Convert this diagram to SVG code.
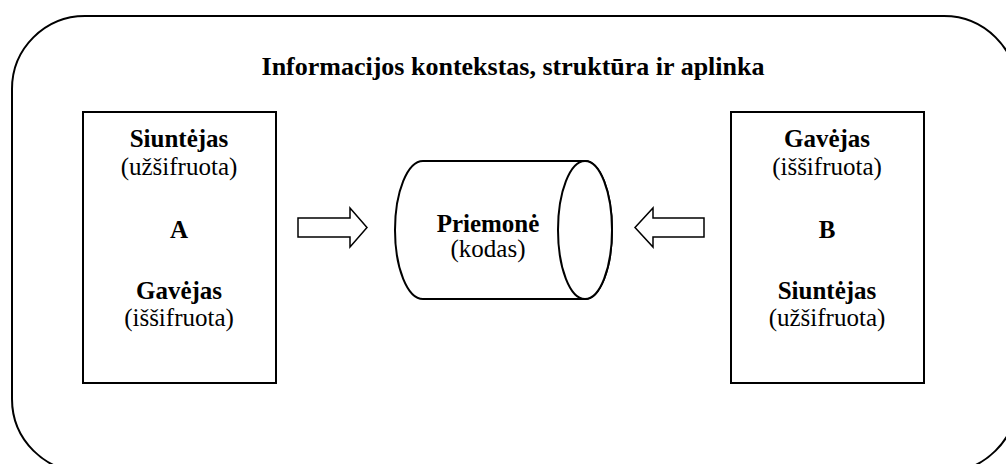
<svg xmlns="http://www.w3.org/2000/svg" width="1006" height="464" viewBox="0 0 1006 464">
  <style>
    .ln { fill: #fff; stroke: #000; stroke-width: 2; }
    .arr { fill: #fff; stroke: #000; stroke-width: 1.5; }
    .t { font-family: 'Liberation Serif', 'Times New Roman', serif; text-anchor: middle; fill: #000; font-size: 25px; }
    .b { font-weight: bold; }
    .title { font-size: 26px; }
  </style>
  <rect width="1006" height="464" fill="#fff"/>

  <!-- surrounding context frame -->
  <g id="context">
    <rect class="ln" x="12" y="16" width="1005" height="456" rx="73" ry="73"/>
    <text class="t b title" x="513" y="75">Informacijos kontekstas, struktūra ir aplinka</text>
  </g>

  <g id="party-a">
    <rect class="ln" x="83" y="112" width="193" height="271"/>
    <text class="t b" x="179" y="147">Siuntėjas</text>
    <text class="t" x="179" y="175">(užšifruota)</text>
    <text class="t b" x="179" y="238">A</text>
    <text class="t b" x="179" y="299">Gavėjas</text>
    <text class="t" x="179" y="326">(iššifruota)</text>
  </g>

  <g id="party-b">
    <rect class="ln" x="731" y="112" width="193" height="271"/>
    <text class="t b" x="827" y="147">Gavėjas</text>
    <text class="t" x="827" y="175">(iššifruota)</text>
    <text class="t b" x="827" y="238">B</text>
    <text class="t b" x="827" y="299">Siuntėjas</text>
    <text class="t" x="827" y="326">(užšifruota)</text>
  </g>

  <!-- channel drawn as a horizontal cylinder -->
  <g id="medium">
    <path class="ln" d="M423 161 L585 161 A27 69 0 0 1 585 299 L423 299 A28 69 0 0 1 423 161 Z"/>
    <ellipse class="ln" cx="585" cy="230" rx="27" ry="69"/>
    <text class="t b" x="488" y="232">Priemonė</text>
    <text class="t" x="488" y="257">(kodas)</text>
  </g>

  <!-- block arrows pointing into the channel -->
  <g id="connectors">
    <path class="arr" d="M298 218 L350 218 L350 208 L367 227.5 L350 247 L350 237 L298 237 Z"/>
    <path class="arr" d="M704 218 L653 218 L653 208 L635 227.5 L653 247 L653 237 L704 237 Z"/>
  </g>
</svg>
